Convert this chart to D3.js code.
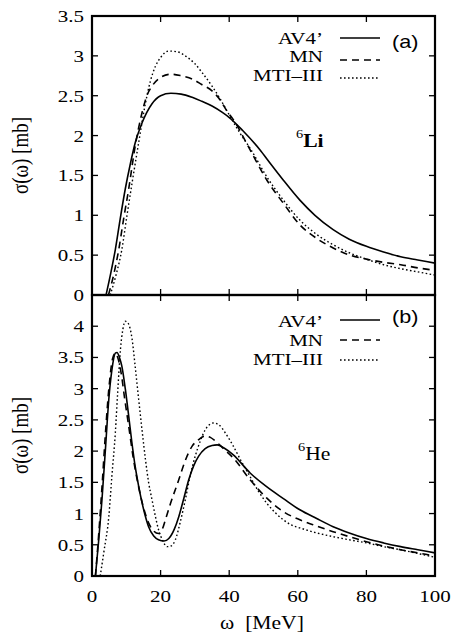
<!DOCTYPE html>
<html><head><meta charset="utf-8">
<script src="https://cdn.jsdelivr.net/npm/d3@7"></script>
<style>body{margin:0;background:#fff}</style></head>
<body>
<svg id="c" width="453" height="637"></svg>
<script>
// ---------- data (ω [MeV], σ [mb]) ----------
const seriesNames = ["AV4’", "MN", "MTI–III"];
const xTicks = [0, 20, 40, 60, 80, 100];
const yTicksLi = [0, 0.5, 1, 1.5, 2, 2.5, 3, 3.5];
const yTicksHe = [0, 0.5, 1, 1.5, 2, 2.5, 3, 3.5, 4];

const liAV4 = [[4.1,0],[5.5,0.28],[6.8,0.57],[8.2,0.95],[9.7,1.33],[11.2,1.65],[12.6,1.91],[14.6,2.16],[17.5,2.40],[20,2.50],[23,2.53],[26,2.52],[29.2,2.48],[32,2.43],[35,2.37],[38,2.29],[40.2,2.22],[44,2.06],[49,1.82],[52,1.65],[55.8,1.44],[60.6,1.19],[65,1.0],[70.3,0.82],[75,0.70],[80,0.61],[85,0.54],[90,0.48],[95,0.44],[100,0.40]];
const liMN = [[4.8,0],[6.3,0.25],[7.8,0.57],[9.2,0.95],[10.7,1.33],[12.6,1.87],[14.6,2.29],[16,2.50],[17.5,2.62],[20,2.73],[23,2.77],[26,2.75],[29.2,2.71],[32,2.64],[35,2.56],[37.3,2.45],[39.3,2.31],[41.2,2.20],[46.1,1.82],[51,1.44],[55.8,1.15],[60.6,0.88],[65.5,0.71],[70.3,0.59],[75.2,0.50],[80,0.45],[85,0.41],[90,0.38],[95,0.34],[100,0.31]];
const liMTI = [[5.3,0],[7,0.25],[8.7,0.57],[10.2,1.0],[11.7,1.41],[13.6,1.91],[15.6,2.41],[17,2.68],[18.5,2.87],[20,2.98],[22.4,3.06],[25,3.05],[27.2,3.00],[30,2.90],[32.1,2.79],[35,2.62],[37.5,2.45],[40,2.26],[43,2.04],[46.1,1.84],[51,1.48],[55.8,1.19],[60.6,0.94],[65.5,0.76],[70.3,0.63],[75,0.53],[80,0.45],[85,0.38],[90,0.33],[95,0.29],[100,0.25]];

const heAV4 = [[1,0],[2,0.6],[2.9,1.22],[4,2.1],[4.9,2.83],[5.8,3.3],[6.8,3.57],[7.3,3.58],[8,3.5],[8.7,3.36],[9.7,3.0],[10.7,2.56],[11.6,2.15],[12.6,1.75],[13.6,1.44],[14.6,1.17],[15.5,0.97],[16.5,0.79],[18,0.64],[19.4,0.58],[21,0.56],[22.4,0.60],[24,0.75],[25.3,0.95],[26.8,1.25],[28.2,1.54],[29.6,1.76],[31.1,1.92],[33,2.04],[35,2.09],[36.5,2.10],[38.5,2.05],[41.2,1.94],[46.1,1.65],[50.9,1.43],[55.8,1.24],[60.6,1.06],[65.5,0.92],[70.3,0.79],[75,0.69],[80,0.60],[85,0.53],[90,0.47],[95,0.42],[100,0.37]];
const heMN = [[1,0],[2,0.7],[3,1.5],[4,2.35],[5,3.05],[6,3.48],[6.8,3.57],[7.5,3.5],[8.5,3.25],[9.5,2.85],[10.7,2.4],[12,1.9],[13.5,1.45],[15,1.1],[16.5,0.85],[18,0.72],[19.4,0.68],[20.5,0.75],[21.4,0.90],[23,1.18],[25.3,1.54],[27,1.82],[29.2,2.08],[31,2.18],[33,2.24],[34.5,2.22],[36,2.16],[38.5,2.03],[41.2,1.89],[46.1,1.54],[50.9,1.25],[55.8,1.03],[60.6,0.90],[65.5,0.80],[70.3,0.71],[75,0.63],[80,0.55],[85,0.48],[90,0.42],[95,0.37],[100,0.32]];
const heMTI = [[2.4,0],[3.5,0.4],[4.9,0.95],[5.8,1.6],[6.8,2.29],[7.5,2.95],[8.3,3.63],[9,3.95],[9.7,4.08],[10.5,4.05],[11.7,3.79],[12.6,3.35],[13.6,2.83],[14.6,2.33],[15.6,1.86],[16.5,1.5],[17.5,1.22],[18.5,0.95],[19.4,0.74],[20.5,0.58],[21.9,0.47],[23,0.48],[24.3,0.58],[25.8,0.88],[27.2,1.22],[28.6,1.6],[30.1,1.92],[31.5,2.15],[33,2.34],[35.4,2.45],[37,2.42],[39,2.28],[41.2,2.08],[43.5,1.84],[46.1,1.59],[48.5,1.36],[50.9,1.17],[53.3,1.02],[55.8,0.90],[58,0.82],[60.6,0.77],[65.5,0.69],[70.3,0.63],[75,0.58],[80,0.53],[85,0.47],[90,0.42],[95,0.36],[100,0.30]];

// ---------- layout ----------
const svg = d3.select("#c");
const L = 92, R = 435;
const SERIF = "'Liberation Serif', 'Times New Roman', Times, 'DejaVu Serif', serif";
const SANS = "'Liberation Sans', Arial, Helvetica, sans-serif";
const SX = 1.2;
const dashes = [null, "7,5", "1.6,2.4"];

const x = d3.scaleLinear().domain([0, 100]).range([L, R]);

function txt(g, px, py, s, o) {
  return g.append("text")
    .attr("transform", `translate(${px},${py}) scale(${o.sx ?? SX},1)`)
    .attr("text-anchor", o.anchor || "start")
    .style("font-family", o.family || SERIF)
    .style("font-size", (o.size || 17.5) + "px")
    .style("font-weight", o.weight || "normal")
    .attr("fill", "#000")
    .text(s);
}

function panel(cfg) {
  const g = svg.append("g");
  const y = d3.scaleLinear().domain(cfg.ydom).range([cfg.bottom, cfg.top]);
  const id = "clip" + cfg.key;
  svg.append("clipPath").attr("id", id).append("rect")
    .attr("x", L).attr("y", cfg.top).attr("width", R - L).attr("height", cfg.bottom - cfg.top);

  // ticks (inward, mirrored)
  const tk = 6;
  const tg = g.append("g").attr("stroke", "#000").attr("stroke-width", 1.3);
  xTicks.filter(v => v > 0 && v < 100).forEach(v => {
    tg.append("line").attr("x1", x(v)).attr("x2", x(v)).attr("y1", cfg.bottom).attr("y2", cfg.bottom - tk);
    tg.append("line").attr("x1", x(v)).attr("x2", x(v)).attr("y1", cfg.top).attr("y2", cfg.top + tk);
  });
  cfg.yticks.filter(v => v > cfg.ydom[0]).forEach(v => {
    tg.append("line").attr("x1", L).attr("x2", L + tk).attr("y1", y(v)).attr("y2", y(v));
    tg.append("line").attr("x1", R).attr("x2", R - tk).attr("y1", y(v)).attr("y2", y(v));
  });
  // y tick labels
  cfg.yticks.forEach(v => {
    txt(g, L - 8, y(v) + 6, String(v), {anchor: "end"});
  });

  // curves
  const line = d3.line().x(d => x(d[0])).y(d => y(d[1])).curve(d3.curveMonotoneX);
  const cg = g.append("g").attr("clip-path", `url(#${id})`);
  cfg.series.forEach((s, i) => {
    cg.append("path").attr("d", line(s)).attr("fill", "none").attr("stroke", "#000")
      .attr("stroke-width", i === 2 ? 1.4 : 1.6)
      .attr("stroke-dasharray", dashes[i]);
  });

  // frame
  g.append("rect").attr("x", L).attr("y", cfg.top).attr("width", R - L).attr("height", cfg.bottom - cfg.top)
    .attr("fill", "none").attr("stroke", "#000").attr("stroke-width", 2.2);

  // legend
  seriesNames.forEach((n, i) => {
    txt(g, 323, cfg.legBase[i], n, {anchor: "end"});
    g.append("line").attr("x1", 340).attr("x2", 380).attr("y1", cfg.legLine[i]).attr("y2", cfg.legLine[i])
      .attr("stroke", "#000").attr("stroke-width", i === 2 ? 1.3 : 1.6).attr("stroke-dasharray", dashes[i]);
  });
  txt(g, 392, cfg.tagY, cfg.tag, {family: SANS, size: 18});

  // nucleus label
  const t = g.append("text")
    .attr("transform", `translate(${cfg.nuc[0]},${cfg.nuc[1]}) scale(${SX},1)`)
    .style("font-family", SERIF).attr("fill", "#000");
  t.append("tspan").style("font-size", "12px").attr("dy", -9).text("6");
  t.append("tspan").style("font-size", "18px").attr("dy", 9).style("font-weight", cfg.nucBold ? "bold" : "normal").text(cfg.nucName);

  // y label
  g.append("text")
    .attr("transform", `translate(28,${(cfg.top + cfg.bottom) / 2}) scale(${SX},1) rotate(-90)`)
    .attr("text-anchor", "middle").style("font-family", SERIF).style("font-size", "19px").attr("fill", "#000")
    .text("σ(ω) [mb]");
  return y;
}

panel({key: "a", top: 16, bottom: 295, ydom: [0, 3.5], yticks: yTicksLi,
  series: [liAV4, liMN, liMTI], legBase: [44, 62, 81], legLine: [38, 60, 78],
  tag: "(a)", tagY: 48, nuc: [296, 147], nucName: "Li", nucBold: true});
panel({key: "b", top: 295, bottom: 576, ydom: [0, 4.5], yticks: yTicksHe,
  series: [heAV4, heMN, heMTI], legBase: [327, 346, 365], legLine: [320, 340, 360],
  tag: "(b)", tagY: 323, nuc: [298, 460], nucName: "He", nucBold: false});

// x tick labels & x label
xTicks.forEach(v => txt(svg, x(v), 602, String(v), {anchor: "middle"}));
txt(svg, 262, 629, "ω  [MeV]", {anchor: "middle", size: 18}).style("white-space", "pre");
</script>
</body></html>
